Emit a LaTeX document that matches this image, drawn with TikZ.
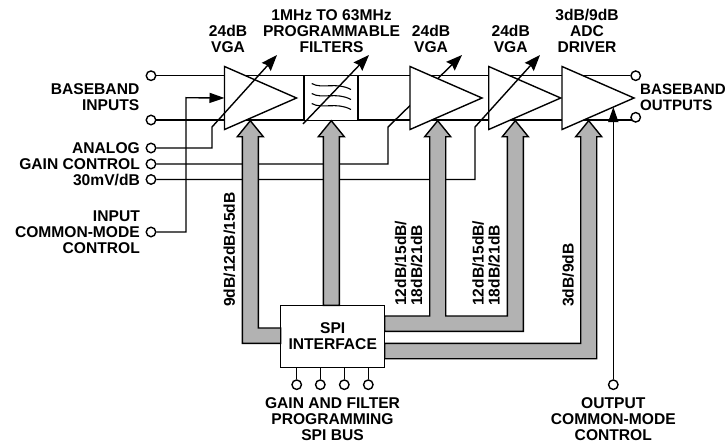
\documentclass[tikz,border=0pt]{standalone}
\usepackage{fontspec}
\setmainfont{Liberation Sans}
\usetikzlibrary{arrows.meta,shapes.geometric,backgrounds}
\definecolor{busgray}{RGB}{178,178,178}
\tikzset{
  wire/.style={line width=1.4pt},
  ctlarrow/.style={wire, -{Stealth[length=16pt,width=12pt,inset=2pt]}},
  cmarrow/.style={wire, -{Stealth[length=15pt,width=10pt,inset=0pt]}},
  termpin/.style={circle, draw, line width=1.4pt, fill=white, inner sep=0pt, minimum size=9.5pt},
  ampbox/.style={isosceles triangle, isosceles triangle stretches, draw, line width=1.4pt,
    fill=white, inner sep=0pt, outer sep=0pt, minimum width=63pt, minimum height=72pt,
    anchor=west},
  blockbox/.style={draw, line width=1.4pt, fill=white, inner sep=0pt, outer sep=0pt, anchor=north west},
  busline/.style={draw, line width=1.4pt, fill=busgray, line join=miter},
  textlab/.style={font=\fontsize{15.6}{16}\selectfont\bfseries, inner sep=0pt, align=center},
  rightlab/.style={textlab, align=right, anchor=east},
  leftlab/.style={textlab, font=\fontsize{15.1}{16}\selectfont\bfseries, align=left, anchor=west},
  vertlab/.style={textlab, align=left, rotate=90, anchor=west}
}
% head of a bus: x of the shaft centre, y of the tip
\newcommand{\bushead}[2]{-- (#1-8,#2+16) -- (#1-13,#2+16) -- (#1,#2) -- (#1+13,#2+16) -- (#1+8,#2+16)}
\begin{document}
\begin{tikzpicture}[x=1pt, y=-1pt]
\useasboundingbox (0,0) rectangle (727,444);
% terminals
\node[termpin] (inA) at (151,75.7) {};
\node[termpin] (inB) at (151,120) {};
\node[termpin] (analog) at (151,148) {};
\node[termpin] (gainctl) at (151,164) {};
\node[termpin] (slope) at (151,179.5) {};
\node[termpin] (incm) at (151,232) {};
\node[termpin] (outA) at (635.7,75.7) {};
\node[termpin] (outB) at (635.7,117.3) {};
\node[termpin] (outcm) at (613.3,384.7) {};
% blocks
\node[ampbox] (vgaA) at (224.5,98) {};
\node[ampbox] (vgaB) at (410,98) {};
\node[ampbox] (vgaC) at (488.7,98) {};
\node[ampbox] (driver) at (562,98) {};
\node[blockbox, minimum width=54pt, minimum height=44.5pt] (filter) at (304,75.7) {};
\node[blockbox, minimum width=104pt, minimum height=62.4pt] (spi) at (280.7,305.3) {};
\coordinate (analogbend) at (212,127);
\coordinate (analogtip) at (277,55);
\coordinate (filtlow) at (303,124);
\coordinate (filttip) at (369,55);
\coordinate (gainbend) at (388,127);
\coordinate (gaintip) at (462,55);
\coordinate (slopebend) at (475,127);
\coordinate (slopetip) at (540,55);
\coordinate (incmbend) at (186,97.7);
\coordinate (outcmtip) at (613.3,107);
% rails
\begin{scope}[on background layer]
\draw[wire] (inA) -- (outA);
\draw[wire] (inB) -- (inB -| outB);
\draw[ctlarrow] (gainctl) -| (gainbend) -- (gaintip);
\end{scope}
% controls on top of the blocks
\draw[ctlarrow] (analog) -| (analogbend) -- (analogtip);
\draw[ctlarrow] (slope) -| (slopebend) -- (slopetip);
\foreach \y in {83.5, 93.5, 103.5}
  \draw[line width=1.1pt] (311.7,\y) .. controls (322,\y+6) and (336,\y-2) .. (351,\y+6);
\draw[ctlarrow] (filtlow) -- (filttip);
\draw[cmarrow] (incm) -| (incmbend) -- (vgaA.west);
\draw[cmarrow] (outcm) -- (outcmtip);
% buses
\path[busline] (spi.west |- 0,343.3) -- (242.3,343.3) \bushead{250.3}{120.7}
  -- (258.3,328) -- (spi.west |- 0,328) -- cycle;
\path[busline] (323.3,305.3) \bushead{331.3}{120.7} -- (339.3,305.3) -- cycle;
\path[busline] (spi.east |- 0,316) -- (429.7,316) \bushead{437.7}{120.7} -- (445.7,316)
  -- (507.3,316) \bushead{515.3}{120.7} -- (523.3,331.3) -- (spi.east |- 0,331.3) -- cycle;
\path[busline] (spi.east |- 0,343.3) -- (580.7,343.3) \bushead{588.7}{120.7}
  -- (596.7,358.7) -- (spi.east |- 0,358.7) -- cycle;
% spi pins
\foreach \x/\n in {296.7/a, 320.3/b, 344.3/c, 368.3/d} {
  \node[termpin] (spi\n) at (\x,384.7) {};
  \draw[wire] (spi\n) -- (spi\n |- spi.south);
}
% labels
\node[rightlab] (inlab) at (139.5,97) {BASEBAND\\INPUTS};
\node[rightlab] (analab) at (140,164) {ANALOG\\GAIN CONTROL\\30mV/dB};
\node[rightlab] (cmlab) at (140,232) {INPUT\\COMMON-MODE\\CONTROL};
\node[leftlab] (outlab) at (640,97) {BASEBAND\\OUTPUTS};
\node[textlab] (vgaAlab) at (228,39) {24dB\\VGA};
\node[textlab] (filtlab) at (331.5,31) {1MHz TO 63MHz\\PROGRAMMABLE\\FILTERS};
\node[textlab] (vgaBlab) at (431,39) {24dB\\VGA};
\node[textlab] (vgaClab) at (510.7,39) {24dB\\VGA};
\node[textlab] (drvlab) at (587,31) {3dB/9dB\\ADC\\DRIVER};
\node[textlab] (spilab) at (spi.center) {SPI\\INTERFACE};
\node[textlab] (proglab) at (332.5,419.5) {GAIN AND FILTER\\PROGRAMMING\\SPI BUS};
\node[textlab] (ocmlab) at (613.3,419.5) {OUTPUT\\COMMON-MODE\\CONTROL};
\node[vertlab] (busAlab) at (229.3,307) {9dB/12dB/15dB};
\node[vertlab] (busBlab) at (408.5,306) {12dB/15dB/\\18dB/21dB};
\node[vertlab] (busClab) at (486,306) {12dB/15dB/\\18dB/21dB};
\node[vertlab] (busDlab) at (568,307) {3dB/9dB};
\end{tikzpicture}
\end{document}
